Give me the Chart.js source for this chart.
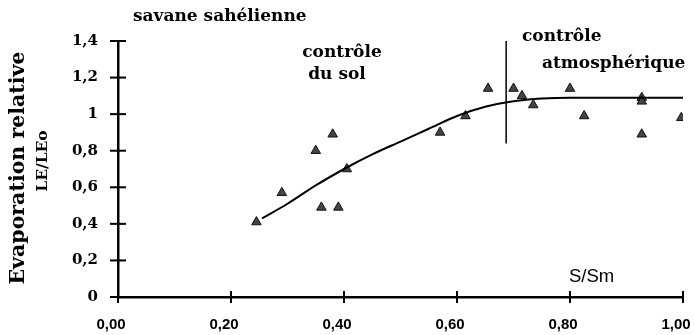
<!DOCTYPE html>
<html>
<head>
<meta charset="utf-8">
<script src="https://cdn.jsdelivr.net/npm/chart.js@4/dist/chart.umd.min.js"></script>
<style>
  html, body { margin: 0; padding: 0; background: #fff; }
  #wrap { width: 694px; height: 335px; }
</style>
</head>
<body>
<div id="wrap"><canvas id="c" width="694" height="335"></canvas></div>
<script>
// mesures (triangles)
const sRel = [0.245, 0.29, 0.35, 0.36, 0.38, 0.39, 0.405, 0.57, 0.615, 0.655, 0.70, 0.715, 0.735, 0.80, 0.825, 0.927, 0.927, 0.927, 0.997];
const evapRel = [0.41, 0.57, 0.80, 0.49, 0.89, 0.49, 0.70, 0.90, 0.99, 1.14, 1.14, 1.10, 1.05, 1.14, 0.99, 1.09, 1.07, 0.89, 0.98];

// courbe d'ajustement
const curveS = [0.255, 0.30, 0.35, 0.40, 0.45, 0.50, 0.55, 0.60, 0.65, 0.70, 0.75, 0.80, 0.90, 1.00];
const curveE = [0.43, 0.51, 0.61, 0.70, 0.78, 0.85, 0.92, 0.99, 1.04, 1.07, 1.085, 1.09, 1.09, 1.09];

// séparation contrôle du sol / atmosphérique
const limiteS = [0.687, 0.687];
const limiteE = [0.84, 1.41];

const xTicks = [0, 0.2, 0.4, 0.6, 0.8, 1.0];
const yTicks = [0, 0.2, 0.4, 0.6, 0.8, 1.0, 1.2, 1.4];

const serif = '"DejaVu Serif", serif';
const sans = '"Liberation Sans", Arial, sans-serif';

const zip = (xs, ys) => xs.map((x, i) => ({ x: x, y: ys[i] }));

// textes et petites croix des graduations
const decor = {
  id: 'decor',
  afterDraw(chart) {
    const ctx = chart.ctx;
    const x = chart.scales.x, y = chart.scales.y;
    ctx.save();
    ctx.strokeStyle = '#000';
    ctx.lineWidth = 2;
    yTicks.forEach(v => {
      const py = y.getPixelForValue(v);
      ctx.beginPath(); ctx.moveTo(x.left - 8, py); ctx.lineTo(x.left + 8, py); ctx.stroke();
    });
    xTicks.forEach(v => {
      const px = x.getPixelForValue(v);
      ctx.beginPath(); ctx.moveTo(px, y.bottom - 6); ctx.lineTo(px, y.bottom + 6); ctx.stroke();
    });

    ctx.fillStyle = '#000';
    ctx.textBaseline = 'middle';
    ctx.font = 'bold 17px ' + serif;
    ctx.textAlign = 'left';
    ctx.fillText('savane sahélienne', 133, 17);
    ctx.textAlign = 'center';
    ctx.fillText('contrôle', 342, 53);
    ctx.fillText('du sol', 337, 75);
    ctx.textAlign = 'left';
    ctx.fillText('contrôle', 522, 37);
    ctx.fillText('atmosphérique', 542, 64);

    ctx.font = '18.5px ' + sans;
    ctx.fillText('S/Sm', 569, 277);

    // titre de l'axe vertical
    ctx.save();
    ctx.translate(19, 168);
    ctx.rotate(-Math.PI / 2);
    ctx.textAlign = 'center';
    ctx.font = 'bold 20.5px ' + serif;
    ctx.fillText('Evaporation relative', 0, 0);
    ctx.restore();
    ctx.save();
    ctx.translate(43, 161);
    ctx.rotate(-Math.PI / 2);
    ctx.textAlign = 'center';
    ctx.font = 'bold 15.5px ' + serif;
    ctx.fillText('LE/LEo', 0, 0);
    ctx.restore();
    ctx.restore();
  }
};

new Chart(document.getElementById('c'), {
  type: 'scatter',
  data: {
    datasets: [
      {
        type: 'line',
        data: zip(curveS, curveE),
        borderColor: '#000',
        borderWidth: 2,
        pointRadius: 0,
        cubicInterpolationMode: 'monotone',
        fill: false
      },
      {
        type: 'line',
        data: zip(limiteS, limiteE),
        borderColor: '#000',
        borderWidth: 1.5,
        pointRadius: 0,
        fill: false
      },
      {
        data: zip(sRel, evapRel),
        pointStyle: 'triangle',
        pointRadius: 5.5,
        backgroundColor: '#444',
        borderColor: '#111',
        borderWidth: 1
      }
    ]
  },
  options: {
    responsive: false,
    animation: false,
    events: [],
    layout: { padding: { left: 0, right: 11, top: 41, bottom: 0 } },
    plugins: { legend: { display: false }, tooltip: { enabled: false } },
    scales: {
      x: {
        type: 'linear',
        min: 0,
        max: 1,
        afterBuildTicks: s => { s.ticks = xTicks.map(v => ({ value: v })); },
        afterFit: s => { s.height = 38; s.paddingLeft = 0; s.paddingRight = 0; },
        grid: { display: false, drawTicks: false },
        border: { display: true, color: '#000', width: 2.5 },
        ticks: {
          padding: 19,
          maxRotation: 0,
          autoSkip: false,
          labelOffset: -7,
          color: '#000',
          font: { family: sans, size: 15, weight: 'bold' },
          callback: v => v.toFixed(2).replace('.', ',')
        }
      },
      y: {
        min: 0,
        max: 1.4,
        afterBuildTicks: s => { s.ticks = yTicks.map(v => ({ value: v })); },
        afterFit: s => { s.width = 118; },
        grid: { display: false, drawTicks: false },
        border: { display: true, color: '#000', width: 2.5 },
        ticks: {
          padding: 20,
          color: '#000',
          font: { family: serif, size: 15, weight: 'bold' },
          callback: v => String(Math.round(v * 10) / 10).replace('.', ',')
        }
      }
    }
  },
  plugins: [decor]
});
</script>
</body>
</html>
